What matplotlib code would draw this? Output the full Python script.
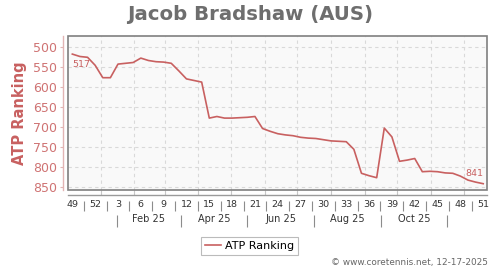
import matplotlib
matplotlib.use('Agg')
import matplotlib.pyplot as plt
from matplotlib.patches import Rectangle
import numpy as np
import datetime as dt

# ---------------- data ----------------
title = "Jacob Bradshaw (AUS)"
series_name = "ATP Ranking"
start_date = dt.date(2024, 12, 6)          # date of the first weekly point (week 49, 2024)
rankings = [517, 523, 525, 545, 576, 576, 542, 540, 538, 527, 533, 536, 537, 540,
            559, 579, 583, 587, 677, 673, 677, 677, 676, 675, 673, 703, 710, 716,
            719, 721, 725, 727, 728, 731, 734, 735, 736, 755, 815, 821, 826, 702,
            724, 785, 782, 778, 811, 810, 811, 814, 815, 822, 832, 837, 841]
week_labels = ['49', '52', '3', '6', '9', '12', '15', '18', '21', '24', '27',
               '30', '33', '36', '39', '42', '45', '48', '51']
month_labels = ['Feb 25', 'Apr 25', 'Jun 25', 'Aug 25', 'Oct 25']
y_ticks = [500, 550, 600, 650, 700, 750, 800, 850]
footer = "\u00a9 www.coretennis.net, 12-17-2025"

# ---------------- derived positions ----------------
x = np.arange(len(rankings))
week_pos = np.arange(0, len(rankings), 3)
week_sep = week_pos[:-1] + 1.5

def to_idx(d):
    return (d - start_date).days / 7.0

month_starts = [dt.date(2025, m, 1) for m in range(1, 13)]
month_grid = [to_idx(d) for d in month_starts]
band_sep = [to_idx(dt.date(2025, m, 16)) for m in (1, 3, 5, 7, 9, 11)]
band_mid = [(a + b) / 2 for a, b in zip(band_sep[:-1], band_sep[1:])]

# ---------------- styling ----------------
line_color = '#c86060'
ytick_color = '#cf7373'
yspine_color = '#e2b4b4'
frame_color = '#7f7f7f'
grid_color = '#d9d9d9'
text_gray = '#333333'

fig = plt.figure(figsize=(5, 2.7), dpi=100)
ax = fig.add_axes([0.1366, 0.2974, 0.8368, 0.5704])
ax.set_facecolor('#f9f9f9')

ax.plot(x, rankings, color=line_color, lw=1.2, zorder=3)
ax.set_xlim(-0.53, 54.46)
ax.set_ylim(856, 471)

# grid
ax.set_yticks(y_ticks)
ax.set_xticks(month_grid)
ax.set_xticklabels([])
ax.grid(True, color=grid_color, lw=0.8, ls=(0, (3, 3)), zorder=0)

# spines
for s in ('top', 'right'):
    ax.spines[s].set_visible(False)
ax.spines['left'].set_position(('outward', 3.6))
ax.spines['left'].set_color(yspine_color)
ax.spines['left'].set_linewidth(1.0)
ax.spines['bottom'].set_position(('outward', 3.6))
ax.spines['bottom'].set_color('#9a9a9a')
ax.spines['bottom'].set_linewidth(1.0)
ax.add_patch(Rectangle((0, 0), 1, 1, transform=ax.transAxes, fill=False,
                       edgecolor=frame_color, lw=1.2, clip_on=False, zorder=5))

ax.tick_params(axis='y', direction='out', length=2.5, width=0.8, color=yspine_color,
               labelcolor=ytick_color, labelsize=9, pad=2)
ax.tick_params(axis='x', direction='in', length=3.6, width=0.8, color='#c8c8c8')

ax.set_ylabel(series_name, color=line_color, fontsize=10.5, fontweight='bold', labelpad=4)

# week label row
sec1 = ax.secondary_xaxis(-0.0714)
sec1.spines['bottom'].set_visible(False)
sec1.set_xticks(week_pos, week_labels)
sec1.set_xticks(week_sep, minor=True)
sec1.tick_params(axis='x', which='major', length=0, pad=-0.5, labelsize=6.8,
                 labelcolor=text_gray)
sec1.tick_params(axis='x', which='minor', length=7.2, width=0.8, color='#8c8c8c',
                 direction='out')

# month label row
sec2 = ax.secondary_xaxis(-0.164)
sec2.spines['bottom'].set_visible(False)
sec2.set_xticks(band_mid, month_labels)
sec2.set_xticks(band_sep, minor=True)
sec2.tick_params(axis='x', which='major', length=0, pad=-0.5, labelsize=7,
                 labelcolor=text_gray)
sec2.tick_params(axis='x', which='minor', length=8.6, width=0.8, color='#8c8c8c',
                 direction='out')

# annotations of first and last values
ax.annotate(str(rankings[0]), xy=(x[0], rankings[0]), xytext=(0, -4.5),
            textcoords='offset points', ha='left', va='top', fontsize=6.8,
            color=line_color)
ax.annotate(str(rankings[-1]), xy=(x[-1], rankings[-1]), xytext=(0, 4),
            textcoords='offset points', ha='right', va='bottom', fontsize=6.8,
            color=line_color)

# title
fig.text(0.5, 0.948, title, ha='center', va='center', fontsize=14.2,
         fontweight='bold', color='#6e6e6e')

# legend
leg = fig.legend([ax.lines[0]], [series_name], loc='center',
                 bbox_to_anchor=(0.4994, 0.0889), fontsize=8, frameon=True,
                 fancybox=False, edgecolor='#aaaaaa', handlelength=1.45,
                 handletextpad=0.4, borderpad=0.35, borderaxespad=0)
leg.get_frame().set_linewidth(0.8)

# footer
fig.text(0.976, 0.026, footer, ha='right', va='center', fontsize=6.4, color='#666666')

fig.savefig('out.png', dpi=100)
